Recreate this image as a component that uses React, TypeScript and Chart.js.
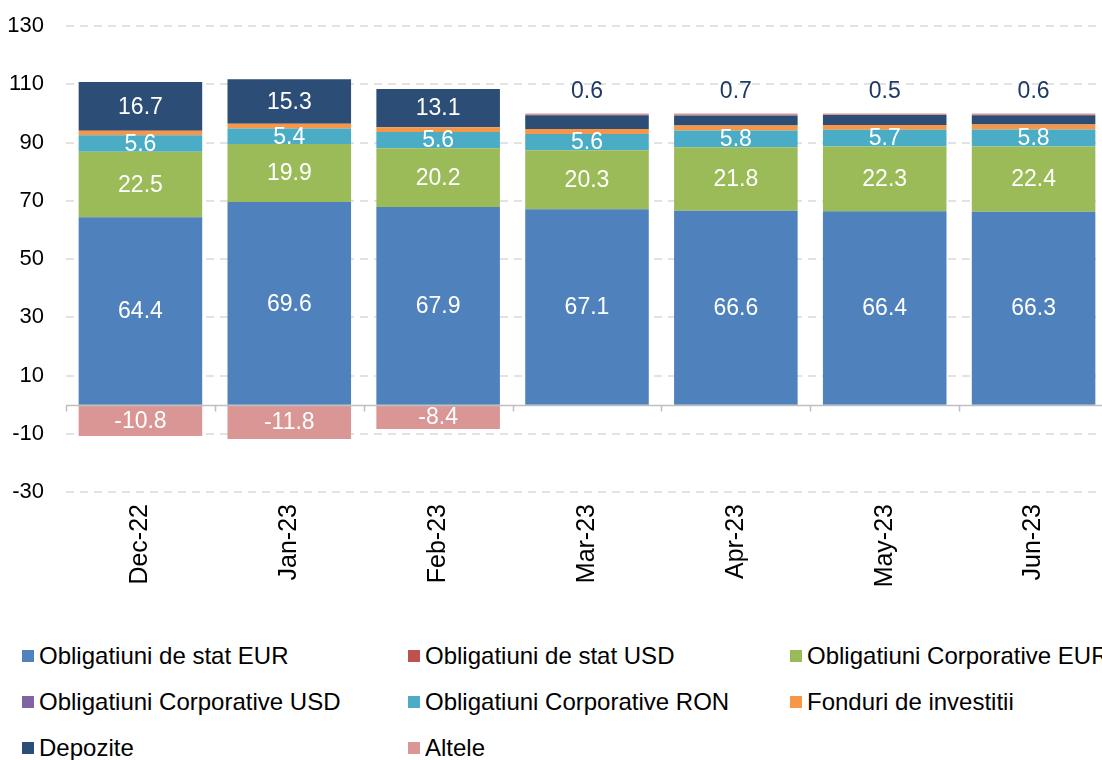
import React, { useEffect, useRef } from "react";
import { Chart, registerables } from "chart.js";
Chart.register(...registerables);

const categories = ["Dec-22", "Jan-23", "Feb-23", "Mar-23", "Apr-23", "May-23", "Jun-23"];
const statEur = [64.4, 69.6, 67.9, 67.1, 66.6, 66.4, 66.3];
const statUsd = [0, 0, 0, 0, 0, 0, 0];
const corpEur = [22.5, 19.9, 20.2, 20.3, 21.8, 22.3, 22.4];
const corpUsd = [0, 0, 0, 0, 0, 0, 0];
const corpRon = [5.6, 5.4, 5.6, 5.6, 5.8, 5.7, 5.8];
const fonduri = [1.6, 1.6, 1.6, 1.7, 1.7, 1.7, 1.7];
const depozite = [16.7, 15.3, 13.1, 4.7, 3.4, 3.4, 3.2];
const altele = [-10.8, -11.8, -8.4, 0.6, 0.7, 0.5, 0.6];
const yTicks = [-30, -10, 10, 30, 50, 70, 90, 110, 130];

const seriesNames = [
  "Obligatiuni de stat EUR",
  "Obligatiuni de stat USD",
  "Obligatiuni Corporative EUR",
  "Obligatiuni Corporative USD",
  "Obligatiuni Corporative RON",
  "Fonduri de investitii",
  "Depozite",
  "Altele",
];
const seriesColors = ["#4F81BD", "#C0504D", "#9BBB59", "#8064A2", "#4BACC6", "#F79646", "#2C4D75", "#D99694"];
const seriesData = [statEur, statUsd, corpEur, corpUsd, corpRon, fonduri, depozite, altele];

const FONT = "'Liberation Sans', Arial, sans-serif";

const customPlugin = {
  id: "customDraw",
  beforeDatasetsDraw(chart: any) {
    const { ctx, chartArea, scales } = chart;
    const y = scales.y;
    ctx.save();
    ctx.strokeStyle = "#D9D9D9";
    ctx.lineWidth = 1.5;
    ctx.setLineDash([8, 6]);
    for (const t of yTicks) {
      const py = Math.round(y.getPixelForValue(t));
      ctx.beginPath();
      ctx.moveTo(chartArea.left, py);
      ctx.lineTo(chartArea.right, py);
      ctx.stroke();
    }
    ctx.restore();
  },
  afterDatasetsDraw(chart: any) {
    const { ctx, chartArea, scales } = chart;
    const x = scales.x;
    const y = scales.y;
    const py = Math.round(y.getPixelForValue(0)) + 0.5;
    ctx.save();
    ctx.strokeStyle = "#BFBFBF";
    ctx.lineWidth = 1.5;
    ctx.beginPath();
    ctx.moveTo(chartArea.left, py);
    ctx.lineTo(chartArea.right, py);
    for (let i = 0; i <= categories.length; i++) {
      const bx = Math.round(x.getPixelForValue(i - 0.5)) + 0.5;
      ctx.moveTo(bx, py);
      ctx.lineTo(bx, py + 6);
    }
    ctx.stroke();

    ctx.font = `23px ${FONT}`;
    ctx.textAlign = "center";
    ctx.textBaseline = "middle";
    chart.data.datasets.forEach((ds: any, di: number) => {
      const meta = chart.getDatasetMeta(di);
      meta.data.forEach((el: any, i: number) => {
        const v = ds.data[i];
        if (v === null || v === 0) return;
        const label = v.toFixed(1);
        let show = false;
        if (di === 0 || di === 2 || di === 4) show = true;
        if (di === 6 && v >= 10) show = true;
        if (di === 7) {
          if (v < 0) {
            ctx.fillStyle = "#FFFFFF";
            ctx.fillText(label, el.x, (el.y + el.base) / 2 + 1);
          } else {
            ctx.fillStyle = "#1F3864";
            ctx.fillText(label, el.x, Math.min(el.y, el.base) - 22);
          }
          return;
        }
        if (show) {
          ctx.fillStyle = "#FFFFFF";
          ctx.fillText(label, el.x, (el.y + el.base) / 2 + 1);
        }
      });
    });
    ctx.restore();
  },
};

export default function App() {
  const ref = useRef<HTMLCanvasElement | null>(null);
  useEffect(() => {
    if (!ref.current) return;
    const chart = new Chart(ref.current, {
      type: "bar",
      data: {
        labels: categories,
        datasets: seriesNames.map((name, i) => ({
          label: name,
          data: seriesData[i],
          backgroundColor: seriesColors[i],
          borderWidth: 0,
          stack: "s",
        })),
      },
      options: {
        responsive: false,
        animation: false,
        devicePixelRatio: 1,
        layout: { padding: { top: 16, right: 0, left: 0, bottom: 0 } },
        datasets: { bar: { categoryPercentage: 1, barPercentage: 0.83 } },
        plugins: { legend: { display: false }, tooltip: { enabled: false } },
        scales: {
          x: {
            stacked: true,
            grid: { display: false },
            border: { display: false },
            ticks: {
              color: "#000000",
              font: { family: FONT, size: 25 },
              maxRotation: 90,
              minRotation: 90,
              autoSkip: false,
              padding: 4,
            },
            afterFit: (s: any) => {
              s.height = 118;
            },
          },
          y: {
            stacked: true,
            min: -30,
            max: 130,
            grid: { display: false, drawTicks: false },
            border: { display: false },
            ticks: {
              stepSize: 20,
              color: "#000000",
              font: { family: FONT, size: 22 },
              padding: 22,
            },
            afterBuildTicks: (s: any) => {
              s.ticks = yTicks.map((v) => ({ value: v }));
            },
            afterFit: (s: any) => {
              s.width = 66;
            },
          },
        },
      },
      plugins: [customPlugin],
    } as any);
    return () => chart.destroy();
  }, []);

  const cols = [22, 408, 790];
  const rows = [656, 702, 748];

  return (
    <div
      style={{
        position: "fixed",
        left: 0,
        top: 0,
        width: 1102,
        height: 760,
        overflow: "hidden",
        background: "#FFFFFF",
      }}
    >
      <canvas ref={ref} width={1108} height={619} style={{ position: "absolute", left: 0, top: -9 }} />
      {seriesNames.map((name, i) => {
        const cx = cols[i % 3];
        const cy = rows[Math.floor(i / 3)];
        return (
          <div key={name}>
            <div
              style={{
                position: "absolute",
                left: cx,
                top: cy - 6,
                width: 12,
                height: 12,
                background: seriesColors[i],
              }}
            />
            <div
              style={{
                position: "absolute",
                left: cx + 17,
                top: cy - 15,
                height: 30,
                lineHeight: "30px",
                fontFamily: FONT,
                fontSize: 24,
                color: "#000000",
                whiteSpace: "nowrap",
              }}
            >
              {name}
            </div>
          </div>
        );
      })}
    </div>
  );
}
